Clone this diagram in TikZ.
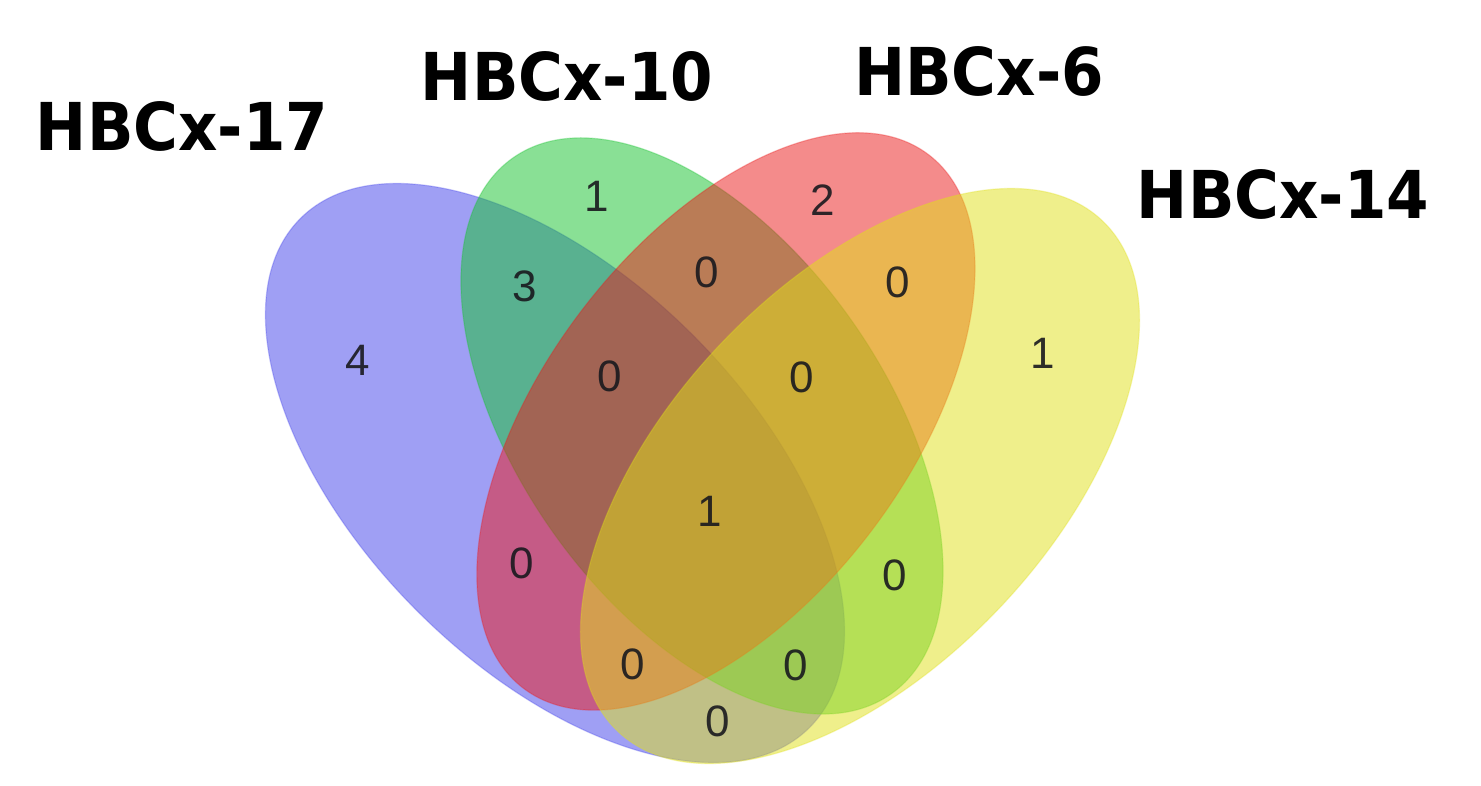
\documentclass[tikz,border=0pt]{standalone}
\usepackage{fontspec}
\usepackage{graphicx}
\newfontfamily\labfont{DejaVu Sans}
\newfontfamily\numfont{Liberation Sans}
\definecolor{vblue}{RGB}{65,65,235}
\definecolor{vgreen}{RGB}{21,195,45}
\definecolor{vred}{RGB}{235,25,25}
\definecolor{vyellow}{RGB}{225,225,25}
\definecolor{numcol}{RGB}{25,25,30}
\begin{document}
\begin{tikzpicture}[x=1pt,y=-1pt,
  setfill/.style={fill=#1, fill opacity=0.5, draw=#1, draw opacity=0.3, line width=1.2pt},
  lab/.style={font=\labfont\bfseries\fontsize{66}{66}\selectfont, inner sep=0pt, text=black},
  num/.style={font=\numfont\fontsize{44}{44}\selectfont, inner sep=0pt, text=numcol, text opacity=0.9}]
\useasboundingbox (0,0) rectangle (1481,785);
\fill[white] (0,0) rectangle (1481,785);
% ellipse centres
\coordinate (cB) at (555,473);
\coordinate (cG) at (702,426);
\coordinate (cR) at (726,421.4);
\coordinate (cY) at (860,476);
% sets, drawn in order blue, green, red, yellow
\path[setfill=vblue, rotate around={-45:(cB)}] (cB) ellipse [x radius=360pt, y radius=195pt];
\path[setfill=vgreen, rotate around={-54.8:(cG)}] (cG) ellipse [x radius=328pt, y radius=183pt];
\path[setfill=vred, rotate around={52.8:(cR)}] (cR) ellipse [x radius=335pt, y radius=182pt];
\path[setfill=vyellow, rotate around={46.5:(cY)}] (cY) ellipse [x radius=352pt, y radius=192pt];
% set labels
\node[lab] (l17) at (182,126) {\scalebox{0.925}[1]{HBCx-17}};
\node[lab] (l10) at (567,76) {\scalebox{0.925}[1]{HBCx-10}};
\node[lab] (l6) at (979,71) {\scalebox{0.925}[1]{HBCx-6}};
\node[lab] (l14) at (1283,194) {\scalebox{0.925}[1]{HBCx-14}};
% region counts
\node[num] (nB) at (358,360) {4};
\node[num] (nG) at (597,196) {1};
\node[num] (nR) at (823,200) {2};
\node[num] (nY) at (1043,353) {1};
\node[num] (nBG) at (525,286) {3};
\node[num] (nGR) at (707,272) {0};
\node[num] (nRY) at (898,282) {0};
\node[num] (nBGR) at (610,376) {0};
\node[num] (nGRY) at (802,377) {0};
\node[num] (nAll) at (710,511) {1};
\node[num] (nBR) at (522,563) {0};
\node[num] (nGY) at (895,575) {0};
\node[num] (nBRY) at (633,664) {0};
\node[num] (nBGY) at (796,665) {0};
\node[num] (nBY) at (718,721) {0};
\end{tikzpicture}
\end{document}
